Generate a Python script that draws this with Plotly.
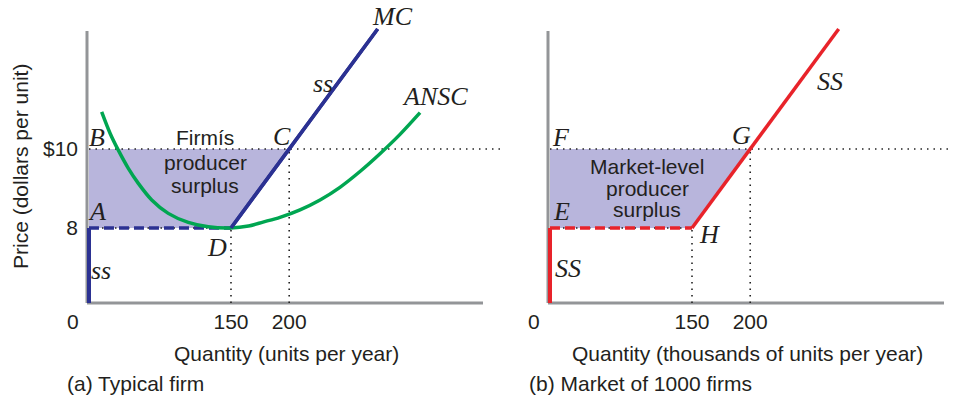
import plotly.graph_objects as go

# ---------------- data ----------------
# Quantity axis is drawn with a break: quantity 0 sits at the axis origin.
Q_ORIGIN = 28            # axis-origin value used for "quantity 0" (axis break)
PRICE_HIGH = 10          # market price ($)
PRICE_LOW = 8            # minimum ANSC / shut-down price
Q_D = 150                # output at minimum ANSC (point D / H)
Q_C = 200                # output at price 10 (point C / G)

# Firm marginal cost (upper part of supply) : D -> C -> top
mc_q = [150, 200, 276]
mc_p = [8, 10, 13.04]

# Average non-sunk cost curve (sampled along the drawn curve)
ansc_q = [38.9, 46.1, 53.2, 61.8, 70.4, 81.9, 96.1, 113.3, 130.5, 150, 165, 177.5,
          192.1, 209.3, 226.5, 243.6, 260.8, 278.0, 295.2, 312.4]
ansc_p = [10.94, 10.40, 9.97, 9.51, 9.13, 8.71, 8.37, 8.14, 8.03, 8.0, 8.05, 8.15,
          8.27, 8.46, 8.71, 9.03, 9.43, 9.88, 10.37, 10.92]

# Market supply (thousands of units) : H -> G -> top
ss_q = [150, 200, 276]
ss_p = [8, 10, 13.04]

x_tick_vals = [150, 200]
x_tick_text = ["150", "200"]
y_tick_vals = [8, 10]
y_tick_text = ["8", "$10"]

# ---------------- styling ----------------
W, H = 953, 400
NAVY = "#2B3192"
GREEN = "#00A651"
RED = "#E8232A"
FILL = "#B8B5DC"
AXIS = "#939598"
TXT = "#231F20"
SANS = "Liberation Sans, Arial, sans-serif"
SERIF = "Liberation Serif, Times New Roman, serif"
DOT = "1.5px,5px"

def px(x):
    return x / W

def py(y):
    return 1 - y / H

Y_MIN, Y_MAX = 6.101, 13.519
X_LEFT_RANGE = [26.3, 381.1]
X_RIGHT_RANGE = [26.3, 374.2]

fig = go.Figure()

def add_panel(xa, ya, xmax, supply_q, supply_p, color):
    # shaded producer surplus
    fig.add_trace(go.Scatter(
        x=[Q_ORIGIN, Q_D, Q_C, Q_ORIGIN, Q_ORIGIN],
        y=[PRICE_LOW, PRICE_LOW, PRICE_HIGH, PRICE_HIGH, PRICE_LOW],
        fill="toself", fillcolor=FILL, mode="lines", line=dict(width=0),
        xaxis=xa, yaxis=ya, hoverinfo="skip", showlegend=False))
    # dotted guides
    guides = [
        ([Q_ORIGIN, xmax], [PRICE_HIGH, PRICE_HIGH]),
        ([Q_ORIGIN, Q_D], [PRICE_LOW, PRICE_LOW]),
        ([Q_D, Q_D], [Y_MIN, PRICE_LOW]),
        ([Q_C, Q_C], [Y_MIN, PRICE_HIGH]),
    ]
    for gx, gy in guides:
        fig.add_trace(go.Scatter(
            x=gx, y=gy, mode="lines",
            line=dict(color="#222222", width=1.6, dash=DOT),
            xaxis=xa, yaxis=ya, hoverinfo="skip", showlegend=False))
    # dashed flat segment at shut-down price
    fig.add_trace(go.Scatter(
        x=[Q_ORIGIN, Q_D], y=[PRICE_LOW, PRICE_LOW], mode="lines",
        line=dict(color=color, width=3.5, dash="10px,5px"),
        xaxis=xa, yaxis=ya, hoverinfo="skip", showlegend=False))
    # vertical supply segment at zero quantity
    fig.add_trace(go.Scatter(
        x=[Q_ORIGIN, Q_ORIGIN], y=[Y_MIN, PRICE_LOW], mode="lines",
        line=dict(color=color, width=4),
        xaxis=xa, yaxis=ya, hoverinfo="skip", showlegend=False))
    # upward sloping supply
    fig.add_trace(go.Scatter(
        x=supply_q, y=supply_p, mode="lines",
        line=dict(color=color, width=3.5),
        xaxis=xa, yaxis=ya, hoverinfo="skip", showlegend=False))

add_panel("x", "y", X_LEFT_RANGE[1], mc_q, mc_p, NAVY)
fig.add_trace(go.Scatter(
    x=ansc_q, y=ansc_p, mode="lines",
    line=dict(color=GREEN, width=3.5, shape="spline", smoothing=0.8),
    xaxis="x", yaxis="y", hoverinfo="skip", showlegend=False))
# redraw MC on top of ANSC
fig.add_trace(go.Scatter(
    x=mc_q, y=mc_p, mode="lines", line=dict(color=NAVY, width=3.5),
    xaxis="x", yaxis="y", hoverinfo="skip", showlegend=False))
add_panel("x2", "y2", X_RIGHT_RANGE[1], ss_q, ss_p, RED)

tickfont = dict(family=SANS, size=21, color=TXT)
common_x = dict(showgrid=False, zeroline=False, showline=False, ticks="",
                tickmode="array", tickvals=x_tick_vals, ticktext=x_tick_text,
                tickfont=tickfont, ticklabelstandoff=4, fixedrange=True)
common_y = dict(showgrid=False, zeroline=False, showline=False, ticks="",
                range=[Y_MIN, Y_MAX], fixedrange=True)

fig.update_layout(
    width=W, height=H,
    margin=dict(l=0, r=0, t=0, b=0),
    paper_bgcolor="white", plot_bgcolor="rgba(0,0,0,0)",
    xaxis=dict(domain=[px(87), px(500)], range=X_LEFT_RANGE, anchor="y", **common_x),
    yaxis=dict(domain=[py(303), py(10)], anchor="x", tickmode="array",
               tickvals=y_tick_vals, ticktext=y_tick_text, tickfont=tickfont,
               ticklabelstandoff=8, **common_y),
    xaxis2=dict(domain=[px(548), px(953)], range=X_RIGHT_RANGE, anchor="y2", **common_x),
    yaxis2=dict(domain=[py(303), py(10)], anchor="x2", showticklabels=False, **common_y),
    showlegend=False,
)

# axis lines (drawn like the textbook: stop short of the dotted guides)
for x0, x1 in [(87, 483), (548, 944)]:
    fig.add_shape(type="line", xref="paper", yref="paper",
                  x0=px(x0), x1=px(x0), y0=py(303), y1=py(31),
                  line=dict(color=AXIS, width=3), layer="below")
    fig.add_shape(type="line", xref="paper", yref="paper",
                  x0=px(x0), x1=px(x1), y0=py(303), y1=py(303),
                  line=dict(color=AXIS, width=3), layer="below")

def ann(text, x, y, size=21, family=SANS, xanchor="center", italic=False, angle=0):
    if italic:
        text = "<i>" + text + "</i>"
    fig.add_annotation(text=text, x=px(x), y=py(y), xref="paper", yref="paper",
                       showarrow=False, xanchor=xanchor, yanchor="middle",
                       textangle=angle,
                       font=dict(family=family, size=size, color=TXT))

# origin labels
ann("0", 73, 321)
ann("0", 534, 321)

# axis titles and captions
ann("Price (dollars per unit)", 20, 167, angle=-90)
ann("Quantity (units per year)", 286, 353)
ann("Quantity (thousands of units per year)", 747, 353)
ann("(a) Typical firm", 65, 383, xanchor="left")
ann("(b) Market of 1000 firms", 527, 383, xanchor="left")

# surplus captions
for t, y in [("Firmís", 137), ("producer", 162), ("surplus", 185)]:
    ann(t, 205, y)
for t, y in [("Market-level", 166), ("producer", 188), ("surplus", 209)]:
    ann(t, 647, y)

# point / curve labels
it = dict(family=SERIF, size=26, italic=True)
for t, x, y in [("B", 97, 137), ("A", 97, 211), ("C", 282, 136), ("D", 217, 247),
                ("ss", 101, 270), ("MC", 392, 16), ("ss", 323, 83), ("ANSC", 435, 96),
                ("F", 561, 137), ("E", 561, 211), ("G", 741, 135), ("H", 709, 234),
                ("SS", 568, 268), ("SS", 830, 81)]:
    ann(t, x, y, **it)

fig.write_html("out.html",
               config={"displayModeBar": False, "staticPlot": True},
               post_script="document.body.style.margin='0';document.body.style.overflow='hidden';")
